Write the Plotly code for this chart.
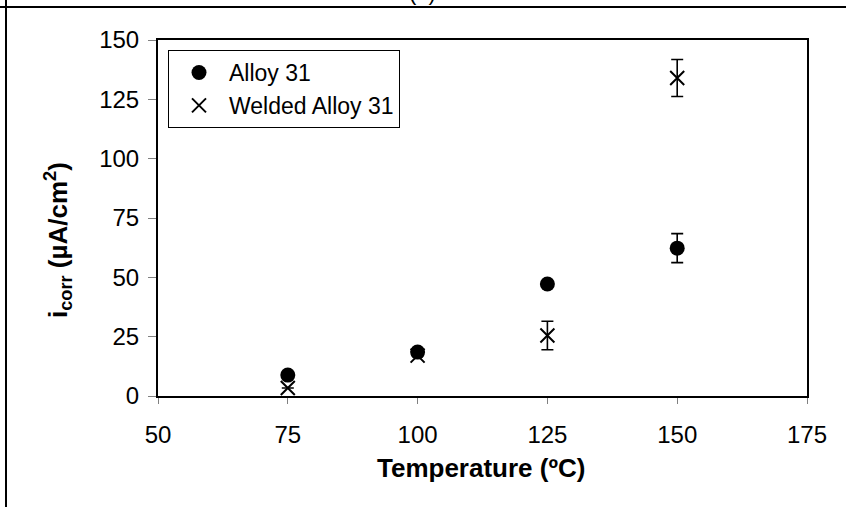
import plotly.graph_objects as go

temps = [75, 100, 125, 150]
alloy31 = [8.8, 18.5, 47.2, 62.3]
alloy31_err = [0, 0, 0, 6.1]
welded = [3.4, 17.0, 25.5, 134.0]
welded_err = [0, 0, 6.0, 7.8]

x_ticks = [50, 75, 100, 125, 150, 175]
y_ticks = [0, 25, 50, 75, 100, 125, 150]

FONT = "Liberation Sans, Arial, sans-serif"

# pixel geometry
L, R, T, B = 158, 807, 40, 396
W, H = 846, 507
pw, ph = R - L, B - T


def px(x):
    return (x - L) / pw


def py(y):
    return (B - y) / ph


fig = go.Figure()
fig.add_trace(go.Scatter(
    x=temps, y=alloy31, mode="markers", name="Alloy 31",
    marker=dict(symbol="circle", size=15, color="black"),
    error_y=dict(type="data", array=alloy31_err, visible=True,
                 color="black", thickness=1.6, width=6),
))
fig.add_trace(go.Scatter(
    x=temps, y=welded, mode="markers", name="Welded Alloy 31",
    marker=dict(symbol="x-thin-open", size=14, color="black",
                line=dict(color="black", width=2)),
    error_y=dict(type="data", array=welded_err, visible=True,
                 color="black", thickness=1.6, width=6),
))

fig.update_layout(
    width=W, height=H,
    margin=dict(l=L, r=W - R, t=T, b=H - B, pad=0, autoexpand=False),
    paper_bgcolor="white", plot_bgcolor="white",
    font=dict(family=FONT, size=24, color="black"),
    showlegend=True,
    legend=dict(x=px(168), y=py(50), xanchor="left", yanchor="top",
                bgcolor="white", bordercolor="black", borderwidth=1,
                font=dict(size=23), itemwidth=50,
                tracegroupgap=0),
    xaxis=dict(range=[50, 175], tickvals=x_ticks, ticktext=[str(v) for v in x_ticks],
               showgrid=False, zeroline=False, showline=True, linecolor="black",
               linewidth=2, mirror=True, ticks="outside", ticklen=6,
               tickcolor="gray", tickwidth=1, ticklabelstandoff=10,
               tickfont=dict(size=24, family=FONT)),
    yaxis=dict(range=[0, 150], tickvals=y_ticks, ticktext=[str(v) for v in y_ticks],
               showgrid=False, zeroline=False, showline=True, linecolor="black",
               linewidth=2, mirror=True, ticks="outside", ticklen=8,
               tickcolor="gray", tickwidth=1, ticklabelstandoff=4,
               tickfont=dict(size=24, family=FONT)),
)

fig.add_annotation(text="<b>Temperature (ºC)</b>", xref="paper", yref="paper",
                   x=px(481), y=py(468), xanchor="center", yanchor="middle",
                   showarrow=False, font=dict(size=26, family=FONT))
fig.add_annotation(text="<b>i<sub>corr</sub> (µA/cm<sup>2</sup>)</b>", xref="paper", yref="paper",
                   x=px(58), y=py(240), xanchor="center", yanchor="middle",
                   textangle=-90, showarrow=False, font=dict(size=26, family=FONT))
fig.add_annotation(text="(a)", xref="paper", yref="paper",
                   x=px(422), y=py(7), xanchor="center", yanchor="bottom",
                   showarrow=False, font=dict(size=22, family=FONT))

# outer frame lines (top and left)
fig.add_shape(type="line", xref="paper", yref="paper",
              x0=px(0), x1=px(846), y0=py(7), y1=py(7),
              line=dict(color="black", width=2))
fig.add_shape(type="line", xref="paper", yref="paper",
              x0=px(6), x1=px(6), y0=py(0), y1=py(507),
              line=dict(color="black", width=2))

fig.write_html("out.html", config={"displayModeBar": False},
               post_script="document.body.style.margin='0';document.body.style.overflow='hidden';")
